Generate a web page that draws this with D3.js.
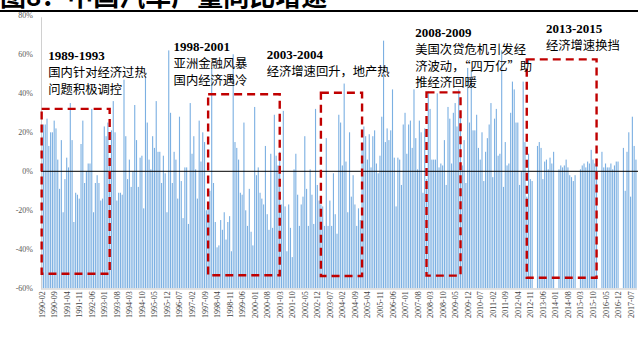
<!DOCTYPE html>
<html>
<head>
<meta charset="utf-8">
<script src="https://cdn.jsdelivr.net/npm/d3@7"></script>
<style>
  html, body { margin: 0; padding: 0; background: #fff; }
  svg { display: block; }
</style>
</head>
<body>
<svg id="chart" width="638" height="340"></svg>
<script>
// Monthly year-on-year growth (%), Feb 1990 – Oct 2017; null = month not reported
const years = d3.range(1990, 2018);
const values1990 = [18,24,24,27,13,20,20,26,22,6,-9];               // Feb–Dec
const values1991 = [16,-21,-4,7,2,35,16,-26,-11,-12,-14,14];
const values1992 = [26,-6,0,4,4,32,-21,-6,-2,-6,-15,-14];
const values1993 = [23,18,25,7,21,36,20,-15,-11,-11,-12,47];
const values1994 = [18,-4,6,-8,0,34,16,-8,7,8,-19,48];
const values1995 = [25,6,1,18,12,36,10,10,-6,8,-1,-21];
const values1996 = [62,30,-6,10,6,-14,28,-5,-24,2,2,-27];
const values1997 = [35,9,18,1,-14,26,5,20,15,-20,-17,-10];
const values1998 = [53,-6,-26,-39,-38,-25,-30,-21,-35,-26,-23,-41];
const values1999 = [60,15,12,6,-11,-12,25,-20,-28,-9,-31,-38];
const values2000 = [33,-2,2,-11,-14,-17,13,-22,-30,9,-29,29];
const values2001 = [8,3,10,-17,31,-18,-41,-17,-29,-44,1,9];
const values2002 = [-12,-28,-17,-13,18,-9,-28,1,-12,-27,32,-7];
const values2003 = [-15,-17,-18,-28,17,-28,-15,-28,-1,-22,-32,29];
const values2004 = [25,3,45,5,-21,20,-13,-2,-17,-28,-19,-25];
const values2005 = [12,23,18,6,19,2,18,21,4,-1,8,28];
const values2006 = [67,15,22,16,21,42,7,-18,7,6,-7,24];
const values2007 = [30,9,24,26,12,42,17,1,26,20,-11,22];
const values2008 = [-4,41,32,6,6,6,40,2,4,3,16,-7];
const values2009 = [33,27,4,30,35,23,42,30,3,16,-6,53];
const values2010 = [25,52,21,21,29,12,6,20,-5,10,17,24];
const values2011 = [35,-3,27,32,8,9,62,-8,15,3,4,30];
const values2012 = [46,42,25,25,-7,0,46,15,-13,9,-4,-5];
const values2013 = [null,null,13,15,12,-4,5,6,1,7,4,10];
const values2014 = [null,null,1,3,2,3,6,2,-2,-3,-5,-2];
const values2015 = [null,null,1,3,4,2,5,4,11,6,4,6];
const values2016 = [null,null,10,2,4,2,2,4,1,3,5,5];
const values2017 = [null,null,12,-10,10,20,-13,28,13,6];           // Jan–Oct

const yearValues = [values1990, values1991, values1992, values1993, values1994,
  values1995, values1996, values1997, values1998, values1999, values2000,
  values2001, values2002, values2003, values2004, values2005, values2006,
  values2007, values2008, values2009, values2010, values2011, values2012,
  values2013, values2014, values2015, values2016, values2017];

// y-axis ticks (%)
const yTicks = [-60, -40, -20, 0, 20, 40, 60, 80];

// Highlighted periods: first month, last month, upper and lower value
const periodStart = ["1990-02", "1997-11", "2003-02", "2008-01", "2012-09"];
const periodEnd   = ["1993-04", "2001-03", "2005-01", "2009-08", "2015-12"];
const periodTop   = [32, 39.5, 40.3, 40.5, 57.4];
const periodBottom= [-52.5, -53.3, -53.7, -53.5, -54.6];

// Notes for each period
const noteYears = ["1989-1993", "1998-2001", "2003-2004", "2008-2009", "2013-2015"];
const noteLines = [
  ["国内针对经济过热", "问题积极调控"],
  ["亚洲金融风暴", "国内经济遇冷"],
  ["经济增速回升，地产热"],
  ["美国次贷危机引发经", "济波动，“四万亿”助", "推经济回暖"],
  ["经济增速换挡"]
];
// left-edge month and baseline value of each note's heading
const noteMonth = ["1990-06", "1996-04", "2000-08", "2007-07", "2013-08"];
const noteValue = [57, 61.7, 57.6, 68.9, 70.9];

// ---- assemble month table ----
const pad = n => String(n).padStart(2, "0");
const months = [], vals = [];
years.forEach((yr, k) => {
  const arr = yearValues[k];
  const startMonth = yr === 1990 ? 2 : 1;
  arr.forEach((v, j) => {
    months.push(`${yr}-${pad(startMonth + j)}`);
    vals.push(v);
  });
});
const data = months.map((m, i) => ({ m, v: vals[i] }));

const svg = d3.select("#chart");

// ---- title strip (only its lower edge sits inside the frame) ----
svg.append("text")
  .attr("x", 0).attr("y", 6)
  .attr("font-family", "Noto Sans CJK SC")
  .attr("font-weight", 700)
  .attr("font-size", 26)
  .attr("fill", "#000")
  .text("图8：中国汽车产量同比增速");
svg.append("line")
  .attr("x1", 0).attr("x2", 638).attr("y1", 11).attr("y2", 11)
  .attr("stroke", "#000").attr("stroke-width", 2);

// ---- scales ----
const x = d3.scaleBand()
  .domain(months)
  .range([41.1, 41.1 + months.length * 1.788])
  .paddingInner(0.38)
  .paddingOuter(0);
const y = d3.scaleLinear().domain([-60, 80]).range([288.3, 15.3]);
const cx = m => x(m) + x.bandwidth() / 2;

// ---- bars (rise from the -60% floor) ----
svg.append("g")
  .selectAll("rect")
  .data(data.filter(d => d.v !== null))
  .join("rect")
  .attr("x", d => x(d.m))
  .attr("width", x.bandwidth())
  .attr("y", d => y(d.v))
  .attr("height", d => y(-60) - y(d.v))
  .attr("fill", "#7cb0e2");

// ---- axes ----
const yAxis = d3.axisLeft(y)
  .tickValues(yTicks)
  .tickSize(0)
  .tickPadding(8)
  .tickFormat(d => d + "%");
const gy = svg.append("g").attr("transform", "translate(41,0)").call(yAxis);
gy.select(".domain").attr("stroke", "#d0d0d0").attr("d", `M0.5,${y(79)}V${y(-60) + 1}`);
gy.selectAll("text")
  .attr("font-family", "Liberation Serif")
  .attr("font-size", 8)
  .attr("fill", "#595959");

const xAxis = d3.axisBottom(x)
  .tickValues(months.filter((m, i) => i % 7 === 0))
  .tickSize(0)
  .tickPadding(0);
const gx = svg.append("g").attr("transform", `translate(0,${y(-60)})`).call(xAxis);
gx.select(".domain").attr("stroke", "#d9d9d9").attr("stroke-width", 1.5)
  .attr("d", `M41,0.8H637`);
gx.selectAll("text")
  .attr("font-family", "Liberation Serif")
  .attr("font-size", 8)
  .attr("fill", "#404040")
  .attr("text-anchor", "end")
  .attr("dy", null)
  .attr("transform", "translate(3,3) rotate(-90)");

// zero line
svg.append("line")
  .attr("x1", 41).attr("x2", 638)
  .attr("y1", y(0)).attr("y2", y(0))
  .attr("stroke", "#000").attr("stroke-width", 1);

// ---- highlighted periods ----
svg.append("g")
  .selectAll("rect")
  .data(periodStart.map((s, k) => k))
  .join("rect")
  .attr("x", k => cx(periodStart[k]))
  .attr("width", k => cx(periodEnd[k]) - cx(periodStart[k]))
  .attr("y", k => y(periodTop[k]))
  .attr("height", k => y(periodBottom[k]) - y(periodTop[k]))
  .attr("fill", "none")
  .attr("stroke", "#c00000")
  .attr("stroke-width", 2.4)
  .attr("stroke-dasharray", "8,5");

// ---- notes ----
const notes = svg.append("g");
noteYears.forEach((yr, k) => {
  const nx = cx(noteMonth[k]) - 0.5;
  const ny = y(noteValue[k]);
  notes.append("text")
    .attr("x", nx).attr("y", ny)
    .attr("font-family", "Liberation Serif")
    .attr("font-weight", 700)
    .attr("font-size", 13)
    .attr("fill", "#000")
    .text(yr);
  noteLines[k].forEach((line, j) => {
    notes.append("text")
      .attr("x", nx).attr("y", ny + 17 + j * 16.6)
      .attr("font-family", "Noto Sans CJK SC")
      .attr("font-size", 12.3)
      .attr("fill", "#000")
      .text(line);
  });
});
</script>
</body>
</html>
